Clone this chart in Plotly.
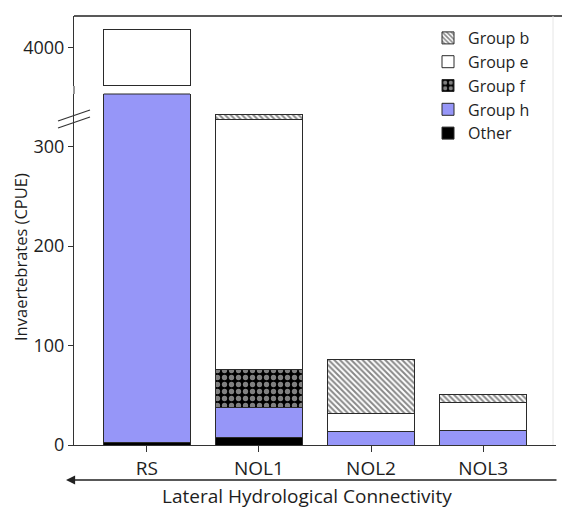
import plotly.graph_objects as go

# Sites along the lateral hydrological connectivity gradient
sites = ["RS", "NOL1", "NOL2", "NOL3"]

# Invertebrate catch per unit effort by group (stacked bottom to top)
other = [3, 8, 0, 0]
group_h = [3600, 30, 14, 15]
group_f = [0, 38, 0, 0]
group_e = [590, 251, 18, 28]
group_b = [0, 5, 54, 8]

lower_ticks = [0, 100, 200, 300]
upper_ticks = [4000]

W, H = 562, 511
L, R, T, B = 74, 6, 16, 66
plot_h = H - T - B
plot_w = W - L - R


def py(px):
    """pixel row -> paper y"""
    return (H - B - px) / plot_h


def px_x(px):
    """pixel column -> paper x"""
    return (px - L) / plot_w


purple = "rgb(150,150,248)"
edge = "#2a2a2a"

series = [
    ("Other", other, dict(color="#000000")),
    ("Group h", group_h, dict(color=purple)),
    ("Group f", group_f, dict(color="black",
                              pattern=dict(shape=".", fgcolor="white", bgcolor="black",
                                           size=7, solidity=0.45))),
    ("Group e", group_e, dict(color="white")),
    ("Group b", group_b, dict(color="white",
                              pattern=dict(shape="\\", fgcolor="#111", bgcolor="white",
                                           size=4, solidity=0.5))),
]

fig = go.Figure()
for name, vals, mk in series:
    for yax, xax, show in (("y", "x", True), ("y2", "x2", False)):
        fig.add_trace(go.Bar(
            x=sites, y=vals, name=name, legendgroup=name, showlegend=show,
            xaxis=xax, yaxis=yax, width=0.77,
            marker=dict(line=dict(color=edge, width=1), **mk),
        ))

font_family = "Open Sans, Noto Sans, sans-serif"
txt = "#1e1e1e"

lower_top = py(94)
upper_bottom = py(86)

fig.update_layout(
    width=W, height=H,
    margin=dict(l=L, r=R, t=T, b=B),
    barmode="stack",
    plot_bgcolor="white", paper_bgcolor="white",
    font=dict(family=font_family, size=18, color=txt),
    legend=dict(
        traceorder="reversed", x=px_x(428), y=py(21), xanchor="left", yanchor="top",
        bgcolor="rgba(0,0,0,0)", font=dict(size=16, color=txt),
        itemwidth=30, tracegroupgap=0,
    ),
    xaxis=dict(
        domain=[0, 1], range=[-0.65, 3.65], anchor="y",
        showline=True, linecolor="#333", linewidth=1,
        ticks="outside", ticklen=6, tickcolor="#333",
        tickfont=dict(size=19), showgrid=False,
    ),
    xaxis2=dict(
        domain=[0, 1], range=[-0.65, 3.65], anchor="y2", matches="x",
        showticklabels=False, showgrid=False, showline=False,
    ),
    yaxis=dict(
        domain=[0, lower_top], range=[0, 353], anchor="x",
        tickvals=lower_ticks, ticks="outside", ticklen=5, tickcolor="#333",
        showline=True, linecolor="#333", linewidth=1, showgrid=False, zeroline=False,
        tickfont=dict(size=18),
    ),
    yaxis2=dict(
        domain=[upper_bottom, 1], range=[3595, 4334], anchor="x2",
        tickvals=upper_ticks, ticks="outside", ticklen=5, tickcolor="#333",
        showline=True, linecolor="#333", linewidth=1, showgrid=False, zeroline=False,
        tickfont=dict(size=18),
    ),
)

shapes = [
    # left axis continued through the break
    dict(type="line", xref="paper", yref="paper", x0=0, x1=0,
         y0=lower_top, y1=upper_bottom, line=dict(color="#333", width=1)),
    # top frame line
    dict(type="line", xref="paper", yref="paper", x0=0, x1=px_x(W),
         y0=1, y1=1, line=dict(color="#222", width=1.5)),
    # faint right frame
    dict(type="line", xref="paper", yref="paper", x0=px_x(553), x1=px_x(553),
         y0=0, y1=1, line=dict(color="#e6e6e6", width=1)),
    # axis break marks
    dict(type="line", xref="paper", yref="paper", x0=px_x(58), x1=px_x(90),
         y0=py(121), y1=py(110), line=dict(color="#333", width=1.2)),
    dict(type="line", xref="paper", yref="paper", x0=px_x(58), x1=px_x(90),
         y0=py(128), y1=py(117), line=dict(color="#333", width=1.2)),
    # top edge of the RS bar where it meets the break
    dict(type="line", xref="x", yref="y domain", x0=-0.385, x1=0.385,
         y0=1, y1=1, line=dict(color=edge, width=1.2)),
]
fig.update_layout(shapes=shapes)

# direction arrow under the category labels
fig.add_annotation(
    xref="paper", yref="paper", x=px_x(66), y=py(480),
    ax=W - 4 - 66, ay=0, axref="pixel", ayref="pixel",
    text="", showarrow=True, arrowhead=2, arrowsize=1.4, arrowwidth=1.3,
    arrowcolor="#222", standoff=0, startstandoff=0,
)
fig.add_annotation(
    xref="paper", yref="paper", x=px_x(307), y=py(496),
    text="Lateral Hydrological Connectivity", showarrow=False,
    font=dict(size=19, color=txt), xanchor="center", yanchor="middle",
)
fig.add_annotation(
    xref="paper", yref="paper", x=px_x(20), y=py(257),
    text="Invaertebrates (CPUE)", showarrow=False, textangle=-90,
    font=dict(size=16.5, color=txt), xanchor="center", yanchor="middle",
)

fig.write_html("out.html")
